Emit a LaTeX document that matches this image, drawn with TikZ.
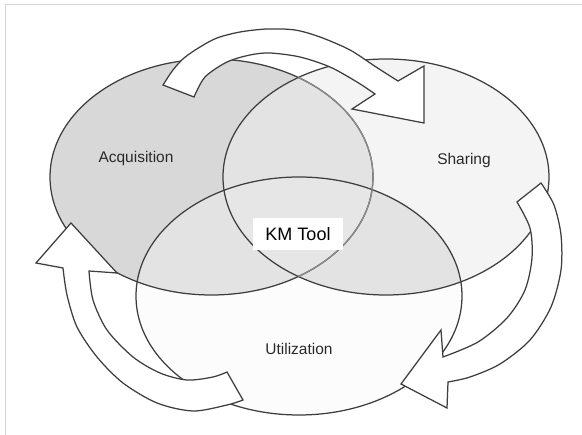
\documentclass[tikz,border=0pt]{standalone}
\usepackage{fontspec}
\setmainfont{Liberation Sans}
\definecolor{acqc}{HTML}{D8D8D8}
\definecolor{shc}{HTML}{F4F4F4}
\definecolor{utc}{HTML}{FCFCFC}
\definecolor{ovl}{HTML}{E3E3E3}
\definecolor{ctr}{HTML}{E6E6E6}
\definecolor{linec}{HTML}{3E3E3E}
\definecolor{lightlinec}{HTML}{8C8C8C}
\definecolor{framec}{HTML}{D4D4D4}
\definecolor{txtc}{HTML}{2A2A2A}
\tikzset{
  outline/.style={draw=linec, line width=1.25pt},
  softline/.style={draw=lightlinec, line width=1.25pt},
  blockarrow/.style={fill=white, draw=linec, line width=1.25pt, line join=miter},
  lbl/.style={text=txtc, font=\fontsize{15.5}{18}\selectfont, inner sep=0pt},
  kmbox/.style={fill=white, minimum width=90pt, minimum height=32pt, inner sep=0pt, font=\fontsize{18}{21}\selectfont}
}
\begin{document}
\begin{tikzpicture}[x=1pt,y=-1pt]
\useasboundingbox (0,0) rectangle (582,435);
\fill[white] (0,0) rectangle (582,435);
\draw[framec, line width=0.8pt] (5.5,436) -- (5.5,4.5) -- (583,4.5);
\def\acq{(211.5,177) ellipse [x radius=161.5, y radius=118]}
\def\shr{(386,177) ellipse [x radius=163, y radius=118]}
\def\utl{(299,296) ellipse [x radius=163, y radius=119]}
% region fills
\fill[acqc] \acq;
\fill[shc] \shr;
\fill[utc] \utl;
\begin{scope}\clip \acq; \fill[ovl] \shr; \fill[ovl] \utl;\end{scope}
\begin{scope}\clip \shr; \fill[ovl] \utl;\end{scope}
\begin{scope}\clip \acq; \clip \shr; \fill[ctr] \utl;\end{scope}
% outlines
\draw[outline] \acq;
\draw[outline] \shr;
\draw[outline] \utl;
\begin{scope}\clip \shr; \draw[softline] \acq;\end{scope}
% top arrow (Acquisition -> Sharing)
\draw[blockarrow] plot[smooth] coordinates {(163,85) (173,70) (184,58) (200,47) (217,38) (240,32) (267,29) (295,30) (320,37) (350,50) (376,67) (398,81)}
  -- (424,66) -- (424,123) -- (352,109) -- (375,94)
  -- plot[smooth] coordinates {(375,94) (357,82) (330,67) (300,57) (270,53) (250,55) (227,62) (205,77) (194,97)} -- cycle;
% right arrow (Sharing -> Utilization)
\draw[blockarrow] plot[smooth] coordinates {(541,183) (554,205) (561,235) (561,270) (551,307) (530,340) (500,364) (470,377) (448,382)}
  -- (447,408) -- (401,384) -- (441,330) -- (443,357)
  -- plot[smooth] coordinates {(443,357) (478,342) (507,318) (525,290) (532,258) (530,228) (517,202)} -- cycle;
% left arrow (Utilization -> Acquisition)
\draw[blockarrow] plot[smooth] coordinates {(243,400) (227,405) (193,411) (157,403) (123,383) (97,357) (77,327) (67,295) (63,268)}
  -- (36,263) -- (71,223) -- (117,273) -- (89,271)
  -- plot[smooth] coordinates {(89,271) (93,300) (107,330) (133,357) (160,373) (187,380) (213,377) (227,372)} -- cycle;
% labels
\node[lbl] (acqlabel) at (136,158) {Acquisition};
\node[lbl] (shrlabel) at (464,160) {Sharing};
\node[lbl] (utllabel) at (299,349) {Utilization};
\node[kmbox] (km) at (298,234) {KM Tool};
\end{tikzpicture}
\end{document}
